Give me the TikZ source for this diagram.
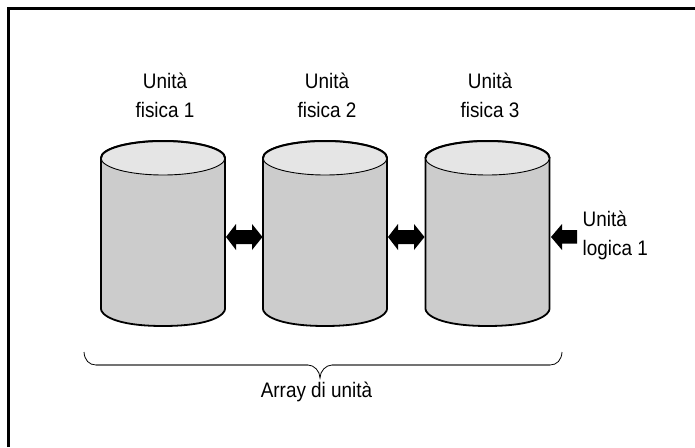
\documentclass[tikz,border=0pt]{standalone}
\usepackage{fontspec}
\setmainfont[FakeStretch=0.9]{Liberation Sans}
\begin{document}
\begin{tikzpicture}[x=1pt,y=-1pt,
  body/.style={fill=bodygray,draw=black,line width=1.8pt,line join=round},
  lid/.style={fill=lidgray,draw=none},
  lbl/.style={font=\fontsize{21}{29}\selectfont,align=center,text=black,inner sep=0pt},
  block/.style={fill=black,draw=none},
  thinedge/.style={draw=black,line width=.8pt},
  frameline/.style={draw=black,line width=2.6pt}]
\definecolor{bodygray}{gray}{0.80}
\definecolor{lidgray}{gray}{0.90}
\tikzset{cyl/.pic={
  \path[body] (-62,158) -- (-62,309) .. controls (-62,314) and (-50,326) .. (0,326)
     .. controls (50,326) and (62,314) .. (62,309) -- (62,158)
     arc[start angle=0,end angle=-180,x radius=62,y radius=17] -- cycle;
  \path[lid] (0,158) ellipse[x radius=62,y radius=17];
  \draw[black,line width=.9pt] (-62,158) arc[start angle=180,end angle=0,x radius=62,y radius=17];
  \draw[black,line width=2pt,line cap=round] (-62,158) arc[start angle=-180,end angle=0,x radius=62,y radius=17];
}}
\path[use as bounding box] (0,0) rectangle (695,447);
\draw[frameline,line cap=butt] (8.5,447) -- (8.5,8.5) -- (695,8.5);
\pic at (163,0) {cyl};
\pic at (325,0) {cyl};
\pic at (487.5,0) {cyl};
\node[lbl] (a) at (165,95) {Unità\\fisica 1};
\node[lbl] (b) at (327,95) {Unità\\fisica 2};
\node[lbl] (c) at (490,95) {Unità\\fisica 3};
\node[lbl,align=left,anchor=west] (d) at (582.5,235) {Unità\\logica 1};
\node[lbl] (e) at (316.5,391.5) {Array di unità};
\fill[block] (226,237) -- (236,224) -- (236,230) -- (252,230) -- (252,224) -- (262.5,237) -- (252,250) -- (252,244) -- (236,244) -- (236,250) -- cycle;
\fill[block] (388,237) -- (398,224) -- (398,230) -- (414,230) -- (414,224) -- (424.5,237) -- (414,250) -- (414,244) -- (398,244) -- (398,250) -- cycle;
\fill[block] (551,237) -- (562,224) -- (562,230) -- (577,230) -- (577,243.5) -- (562,243.5) -- (562,250) -- cycle;
\draw[thinedge] (84,352) .. controls (84.5,360) and (89,365) .. (96,365);
\draw[thinedge] (308,365) .. controls (314,365) and (320,371) .. (320,378) .. controls (320,371) and (326,365) .. (332,365);
\draw[thinedge] (550,365) .. controls (557,365) and (561.5,360) .. (562,352);
\draw[draw=black!55,line width=1.5pt] (96,365) -- (308,365) (332,365) -- (550,365);
\end{tikzpicture}
\end{document}
